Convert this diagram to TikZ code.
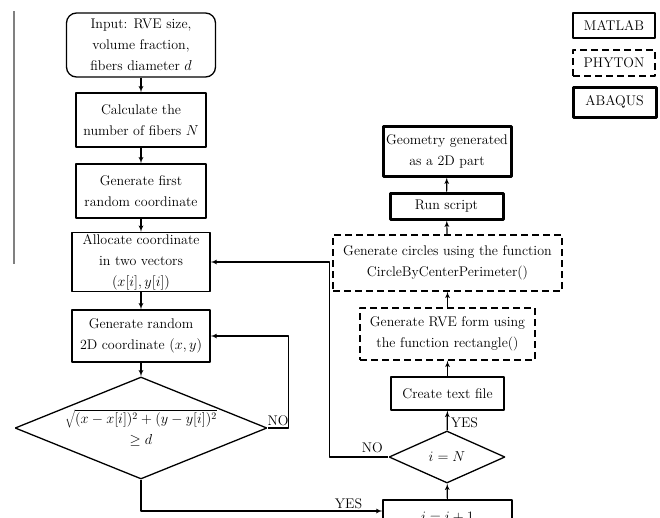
\documentclass[tikz,border=0pt]{standalone}
\usepackage{tikz}
\usetikzlibrary{arrows, shapes, positioning}

\begin{document}
\begin{tikzpicture}[>=latex', line join=bevel, x=1pt, y=-1pt,
        every node/.style={font=\fontsize{14}{21}\selectfont, align=center, inner sep=1pt},
        mbox/.style={draw, line width=1.3pt},
        pbox/.style={mbox, dash pattern=on 7pt off 4pt},
        abox/.style={draw, line width=3pt},
        dec/.style={draw, diamond, line width=1.3pt, inner sep=0pt},
        flow/.style={->, line width=1.2pt}]
        \useasboundingbox (0,0) rectangle (660,517);
        \clip (0,0) rectangle (660,517);
        \draw[line width=2pt, gray] (14,11) -- (14,264);

        % MATLAB part
        \node[mbox, rounded corners=10pt, minimum width=149, minimum height=64] (in) at (141,45)
            {Input: RVE size,\\volume fraction,\\fibers diameter $d$};
        \node[mbox, minimum width=130, minimum height=54] (calc) at (141,120)
            {Calculate the\\number of fibers $N$};
        \node[mbox, minimum width=130, minimum height=54] (first) at (141,191)
            {Generate first\\random coordinate};
        \node[mbox, minimum width=138, minimum height=59] (alloc) at (141,262)
            {Allocate coordinate\\in two vectors\\$(x[i],y[i])$};
        \node[mbox, minimum width=138, minimum height=52] (rand) at (141,336)
            {Generate random\\2D coordinate $(x,y)$};
        \node[dec, minimum width=252, minimum height=102] (chk) at (141,428) {};
        \node (chkt) at (141,428) {$\sqrt{(x-x[i])^2+(y-y[i])^2}$\\$\geq d$};
        \node[mbox, minimum width=129, minimum height=34] (inc) at (447.5,517) {$i=i+1$};
        \node[dec, minimum width=116, minimum height=52] (eq) at (447,457) {$i=N$};
        \node[mbox, minimum width=113, minimum height=33] (txt) at (447.5,393.5) {Create text file};

        % PHYTON part
        \node[pbox, minimum width=175, minimum height=52] (rve) at (447.5,334)
            {Generate RVE form using\\the function rectangle()};
        \node[pbox, minimum width=229, minimum height=56] (circ) at (447.5,263)
            {Generate circles using the function\\CircleByCenterPerimeter()};

        % ABAQUS part
        \node[abox, minimum width=113, minimum height=26] (run) at (446.5,206) {Run script};
        \node[abox, minimum width=128, minimum height=50] (geo) at (447,151)
            {Geometry generated\\as a 2D part};

        % legend
        \node[mbox, minimum width=82, minimum height=25] (mat) at (614,25.5) {MATLAB};
        \node[pbox, minimum width=82, minimum height=26] (phy) at (614,63) {PHYTON};
        \node[abox, minimum width=83, minimum height=30] (aba) at (614.5,102) {ABAQUS};

        \draw[flow] (in) -- (calc);
        \draw[flow] (calc) -- (first);
        \draw[flow] (first) -- (alloc);
        \draw[flow] (alloc) -- (rand);
        \draw[flow] (rand) -- (chk);
        \draw[flow] (chk.east) -- node[above=1pt] (no1) {NO} ++(21,0) |- (rand.east);
        \draw[flow] (chk.south) |- node[pos=.93, above=1pt] (yes1) {YES} ([yshift=6pt]inc.west);
        \draw[flow] (inc) -- (eq);
        \draw[flow] (eq.west) node[above left=3pt and 4pt] (no2) {NO} -- ++(-59,0) |- (alloc.east);
        \draw[flow] (eq) -- node[right=2pt, pos=.4] (yes2) {YES} (txt);
        \draw[flow] (txt) -- (rve);
        \draw[flow] (rve) -- (circ);
        \draw[flow] (circ) -- (run);
        \draw[flow] (run) -- (geo);
\end{tikzpicture}
\end{document}
